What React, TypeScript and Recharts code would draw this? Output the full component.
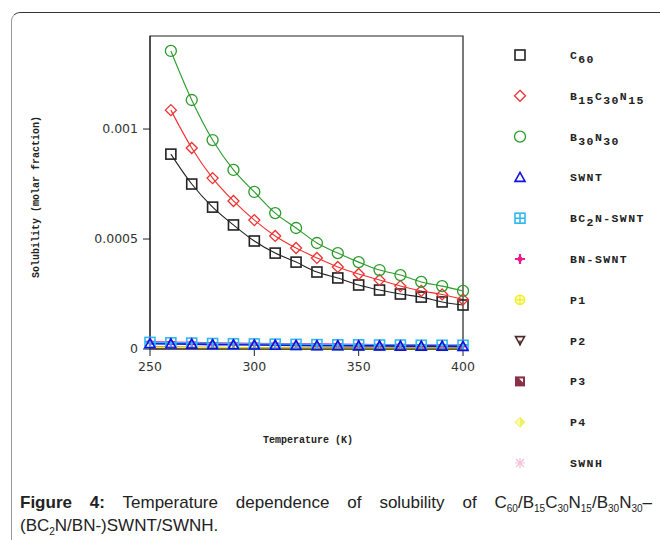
import { LineChart, Line, XAxis, YAxis, ReferenceArea } from 'recharts';

const temps = [250, 260, 270, 280, 290, 300, 310, 320, 330, 340, 350, 360, 370, 380, 390, 400];

const c60 = [null, 0.000886, 0.00075, 0.000645, 0.000564, 0.000491, 0.000436, 0.000395, 0.00035, 0.000323, 0.000291, 0.000268, 0.00025, 0.000236, 0.000214, 0.0002];
const b15c30n15 = [null, 0.001086, 0.000914, 0.000777, 0.000673, 0.000586, 0.000514, 0.000459, 0.000414, 0.000373, 0.000341, 0.000314, 0.000286, 0.000264, 0.000248, 0.000225];
const b30n30 = [null, 0.001355, 0.001132, 0.00095, 0.000814, 0.000714, 0.000618, 0.00055, 0.000482, 0.000436, 0.000395, 0.000359, 0.000336, 0.000305, 0.000286, 0.000264];
const swnt = [0.000024, 0.000023, 0.000022, 0.00002, 0.000019, 0.000018, 0.000017, 0.000016, 0.000015, 0.000015, 0.000014, 0.000014, 0.000013, 0.000013, 0.000013, 0.000012];
const bc2nSwnt = [0.00003, 0.000028, 0.000027, 0.000025, 0.000024, 0.000023, 0.000022, 0.000021, 0.00002, 0.000019, 0.000019, 0.000018, 0.000018, 0.000017, 0.000017, 0.000017];
const bnSwnt = [0.000033, 0.000031, 0.000029, 0.000027, 0.000026, 0.000025, 0.000024, 0.000023, 0.000022, 0.000021, 0.00002, 0.000019, 0.000019, 0.000018, 0.000017, 0.000017];
const p1 = [0.000006, 0.000006, 0.000005, 0.000005, 0.000005, 0.000004, 0.000004, 0.000004, 0.000004, 0.000003, 0.000003, 0.000003, 0.000003, 0.000003, 0.000003, 0.000003];
const p2 = [0.000002, 0.000002, 0.000002, 0.000002, 0.000002, 0.000002, 0.000001, 0.000001, 0.000001, 0.000001, 0.000001, 0.000001, 0.000001, 0.000001, 0.000001, 0.000001];
const p3 = [0.000008, 0.000008, 0.000007, 0.000007, 0.000006, 0.000006, 0.000006, 0.000005, 0.000005, 0.000005, 0.000005, 0.000004, 0.000004, 0.000004, 0.000004, 0.000004];
const p4 = [0.000004, 0.000004, 0.000004, 0.000003, 0.000003, 0.000003, 0.000003, 0.000003, 0.000002, 0.000002, 0.000002, 0.000002, 0.000002, 0.000002, 0.000002, 0.000002];
const swnh = [0.000001, 0.000001, 0.000001, 0.000001, 0.000001, 0.000001, 0.000001, 0.000001, 0.000001, 0.000001, 0.000001, 0.000001, 0.000001, 0.000001, 0.000001, 0.000001];

const xTicks = [250, 300, 350, 400];
const yTicks = [0, 0.0005, 0.001];

// label parts: [text, isSub]
const series = [
  { key: 'c60', values: c60, color: '#222222', shape: 'square', label: [['C', 0], ['60', 1]] },
  { key: 'b15', values: b15c30n15, color: '#f03030', shape: 'diamond', label: [['B', 0], ['15', 1], ['C', 0], ['30', 1], ['N', 0], ['15', 1]] },
  { key: 'b30', values: b30n30, color: '#2a9a2a', shape: 'circle', label: [['B', 0], ['30', 1], ['N', 0], ['30', 1]] },
  { key: 'swnt', values: swnt, color: '#1010e0', shape: 'triangle', label: [['SWNT', 0]] },
  { key: 'bc2n', values: bc2nSwnt, color: '#30b8f0', shape: 'boxcross', label: [['BC', 0], ['2', 1], ['N-SWNT', 0]] },
  { key: 'bn', values: bnSwnt, color: '#f01890', shape: 'cross', label: [['BN-SWNT', 0]] },
  { key: 'p1', values: p1, color: '#f0f000', shape: 'circleplus', label: [['P1', 0]] },
  { key: 'p2', values: p2, color: '#502828', shape: 'invtri', label: [['P2', 0]] },
  { key: 'p3', values: p3, color: '#8a3048', shape: 'halfsquare', label: [['P3', 0]] },
  { key: 'p4', values: p4, color: '#f0f060', shape: 'halfdiamond', label: [['P4', 0]] },
  { key: 'swnh', values: swnh, color: '#f8c0d8', shape: 'star', label: [['SWNH', 0]] },
];

const data = temps.map((t, i) => {
  const row: any = { t };
  series.forEach((s) => { row[s.key] = s.values[i]; });
  return row;
});

function marker(shape: string, cx: number, cy: number, color: string) {
  const sw = 1.3;
  switch (shape) {
    case 'square':
      return <rect x={cx - 5} y={cy - 5} width={10} height={10} fill="none" stroke={color} strokeWidth={1.6} />;
    case 'diamond':
      return <path d={`M${cx} ${cy - 5.5}L${cx + 5.5} ${cy}L${cx} ${cy + 5.5}L${cx - 5.5} ${cy}Z`} fill="none" stroke={color} strokeWidth={sw} />;
    case 'circle':
      return <circle cx={cx} cy={cy} r={5.5} fill="none" stroke={color} strokeWidth={sw} />;
    case 'triangle':
      return <path d={`M${cx} ${cy - 5}L${cx + 5} ${cy + 4}L${cx - 5} ${cy + 4}Z`} fill="none" stroke={color} strokeWidth={1.6} />;
    case 'boxcross':
      return (
        <g>
          <rect x={cx - 5} y={cy - 5} width={10} height={10} fill="none" stroke={color} strokeWidth={1.6} />
          <path d={`M${cx} ${cy - 5}V${cy + 5}M${cx - 5} ${cy}H${cx + 5}`} stroke={color} strokeWidth={1.6} />
        </g>
      );
    case 'cross':
      return (
        <g>
          <path d={`M${cx} ${cy - 5}V${cy + 5}M${cx - 5} ${cy}H${cx + 5}`} stroke={color} strokeWidth={2.2} />
          <circle cx={cx} cy={cy} r={2.5} fill={color} />
        </g>
      );
    case 'circleplus':
      return (
        <g>
          <circle cx={cx} cy={cy} r={4.5} fill="none" stroke={color} strokeWidth={1.5} />
          <path d={`M${cx} ${cy - 5}V${cy + 5}M${cx - 5} ${cy}H${cx + 5}`} stroke={color} strokeWidth={1.3} />
        </g>
      );
    case 'invtri':
      return (
        <g>
          <path d={`M${cx - 4.5} ${cy - 4}L${cx + 4.5} ${cy - 4}L${cx} ${cy + 4}Z`} fill="none" stroke={color} strokeWidth={1.6} />
          <path d={`M${cx} ${cy}V${cy + 5}`} stroke={color} strokeWidth={1.4} />
        </g>
      );
    case 'halfsquare':
      return (
        <g>
          <rect x={cx - 5} y={cy - 5} width={10} height={10} fill={color} />
          <path d={`M${cx - 1} ${cy - 3}L${cx + 3} ${cy - 3}L${cx + 3} ${cy + 1}Z`} fill="#fff" />
        </g>
      );
    case 'halfdiamond':
      return (
        <g>
          <path d={`M${cx} ${cy - 5}L${cx + 5} ${cy}L${cx} ${cy + 5}L${cx - 5} ${cy}Z`} fill="#fafab0" stroke={color} strokeWidth={1} />
          <path d={`M${cx} ${cy - 5}L${cx + 5} ${cy}L${cx} ${cy + 5}Z`} fill={color} />
        </g>
      );
    case 'star':
      return (
        <path
          d={`M${cx} ${cy - 5}V${cy + 5}M${cx - 5} ${cy}H${cx + 5}M${cx - 4} ${cy - 4}L${cx + 4} ${cy + 4}M${cx - 4} ${cy + 4}L${cx + 4} ${cy - 4}`}
          stroke={color}
          strokeWidth={1.2}
        />
      );
    default:
      return null;
  }
}

const dotFor = (shape: string, color: string) => (props: any) => {
  const { cx, cy, index, value } = props;
  if (value == null || cx == null || cy == null) return <g key={`e-${index}`} />;
  return <g key={`d-${index}`}>{marker(shape, cx, cy, color)}</g>;
};

const monoFont = '"Liberation Mono", "DejaVu Sans Mono", monospace';
const tickFont = '"DejaVu Sans", Verdana, sans-serif';

function LegendBox() {
  return (
    <svg width={160} height={450} style={{ position: 'absolute', left: 505, top: 40 }}>
      {series.map((s, i) => {
        const y = 15 + i * 40.8;
        return (
          <g key={s.key}>
            {marker(s.shape, 15, y, s.color)}
            <text x={65} y={y + 4} fontFamily={monoFont} fontWeight="bold" fontSize={11.5} letterSpacing={1.4} fill="#222">
              {s.label.map(([txt, sub], j) =>
                sub ? (
                  <tspan key={j} dy={4}>{txt}</tspan>
                ) : (
                  <tspan key={j} dy={j > 0 && s.label[j - 1][1] ? -4 : 0}>{txt}</tspan>
                )
              )}
            </text>
          </g>
        );
      })}
    </svg>
  );
}

const Sub = ({ children }: { children: string }) => (
  <sub style={{ fontSize: 10, verticalAlign: 'baseline', position: 'relative', top: 4 }}>{children}</sub>
);

export default function App() {
  return (
    <div style={{ position: 'absolute', left: 0, top: 0, width: 660, height: 540, overflow: 'hidden', background: '#fff' }}>
      <div
        style={{
          position: 'absolute',
          left: 11,
          top: 12,
          width: 720,
          height: 600,
          borderTop: '1.5px solid #333',
          borderLeft: '1.5px solid #999',
          borderTopLeftRadius: 9,
        }}
      />
      <div style={{ position: 'absolute', left: 0, top: 0 }}>
        <LineChart width={660} height={540} data={data} margin={{ top: 36, right: 197, bottom: 161, left: 90 }}>
          <XAxis
            dataKey="t"
            type="number"
            domain={[250, 400]}
            ticks={xTicks}
            stroke="#222"
            tickSize={7}
            height={30}
            tick={{ fill: '#333', fontSize: 12.5, fontFamily: tickFont, dy: 4 }}
          />
          <YAxis
            type="number"
            domain={[0, 0.001423]}
            ticks={yTicks}
            stroke="#222"
            tickSize={7}
            width={60}
            tickFormatter={(v: number) => String(v)}
            tick={{ fill: '#333', fontSize: 12.5, fontFamily: tickFont, dx: -3 }}
          />
          <ReferenceArea x1={250} x2={400} y1={0} y2={0.001423} fill="none" stroke="#222" strokeWidth={1.2} />
          {series.slice(3).reverse().map((s) => (
            <Line
              key={s.key}
              dataKey={s.key}
              type="linear"
              stroke={s.color}
              strokeWidth={1.6}
              dot={s.key === 'swnt' || s.key === 'bc2n' || s.key === 'bn' ? dotFor(s.shape, s.color) : false}
              isAnimationActive={false}
            />
          ))}
          {series.slice(0, 3).map((s) => (
            <Line
              key={s.key}
              dataKey={s.key}
              type="monotone"
              stroke={s.color}
              strokeWidth={1.1}
              dot={dotFor(s.shape, s.color)}
              connectNulls
              isAnimationActive={false}
            />
          ))}
        </LineChart>
      </div>
      <LegendBox />
      <div
        style={{
          position: 'absolute',
          left: 36,
          top: 197,
          transform: 'translate(-50%, -50%) rotate(-90deg)',
          whiteSpace: 'nowrap',
          fontFamily: monoFont,
          fontWeight: 'bold',
          fontSize: 10,
          color: '#222',
        }}
      >
        Solubility (molar fraction)
      </div>
      <div
        style={{
          position: 'absolute',
          left: 308,
          top: 440,
          transform: 'translate(-50%, -50%)',
          whiteSpace: 'nowrap',
          fontFamily: monoFont,
          fontWeight: 'bold',
          fontSize: 10,
          color: '#222',
        }}
      >
        Temperature (K)
      </div>
      <div
        style={{
          position: 'absolute',
          left: 20,
          top: 492,
          width: 632,
          fontFamily: '"Liberation Sans", Arial, sans-serif',
          fontSize: 17,
          color: '#222',
          lineHeight: '21px',
        }}
      >
        <div style={{ textAlign: 'justify', textAlignLast: 'justify' }}>
          <b>Figure 4:</b> Temperature dependence of solubility of C<Sub>60</Sub>/B<Sub>15</Sub>C<Sub>30</Sub>N<Sub>15</Sub>/B<Sub>30</Sub>N<Sub>30</Sub>–
        </div>
        <div>
          (BC<Sub>2</Sub>N/BN-)SWNT/SWNH.
        </div>
      </div>
    </div>
  );
}
